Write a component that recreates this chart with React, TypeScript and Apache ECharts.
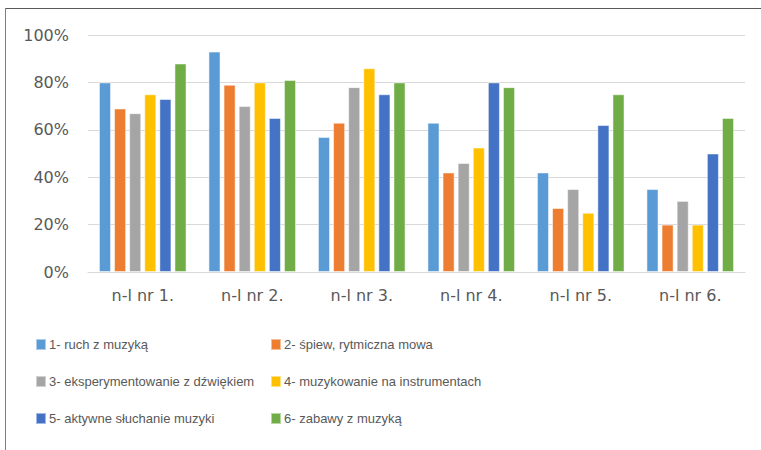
import React, { useEffect, useRef } from "react";
import * as echarts from "echarts";

const categories = ["n-l nr 1.", "n-l nr 2.", "n-l nr 3.", "n-l nr 4.", "n-l nr 5.", "n-l nr 6."];
const seriesNames = [
  "1- ruch z muzyką",
  "2- śpiew, rytmiczna mowa",
  "3- eksperymentowanie z dźwiękiem",
  "4- muzykowanie na instrumentach",
  "5- aktywne słuchanie muzyki",
  "6- zabawy z muzyką",
];
const s1 = [80, 93, 57, 63, 42, 35];
const s2 = [69, 79, 63, 42, 27, 20];
const s3 = [67, 70, 78, 46, 35, 30];
const s4 = [75, 80, 86, 52.5, 25, 20];
const s5 = [73, 65, 75, 80, 62, 50];
const s6 = [88, 81, 80, 78, 75, 65];
const seriesValues = [s1, s2, s3, s4, s5, s6];
const colors = ["#5B9BD5", "#ED7D31", "#A5A5A5", "#FFC000", "#4472C4", "#70AD47"];

export default function App() {
  const ref = useRef<HTMLDivElement>(null);
  useEffect(() => {
    if (!ref.current) return;
    const chart = echarts.init(ref.current, undefined, { renderer: "svg" });
    const legendText = {
      color: "#595959",
      fontSize: 13,
      fontFamily: "'Liberation Sans', Arial, sans-serif",
      padding: [0, 0, 0, -2],
    };
    const legendBase = {
      orient: "vertical",
      top: 338,
      padding: 0,
      itemGap: 24,
      itemWidth: 10,
      itemHeight: 11,
      icon: "rect",
      textStyle: legendText,
    };
    chart.setOption({
      animation: false,
      backgroundColor: "#ffffff",
      grid: { left: 88, right: 16, top: 35, bottom: 178 },
      xAxis: {
        type: "category",
        data: categories,
        axisLine: { lineStyle: { color: "#d9d9d9", width: 1 } },
        axisTick: { show: false },
        axisLabel: {
          color: "#595959",
          fontSize: 16,
          fontFamily: "'DejaVu Sans', sans-serif",
          margin: 15,
        },
      },
      yAxis: {
        type: "value",
        min: 0,
        max: 100,
        interval: 20,
        axisLine: { show: false },
        axisTick: { show: false },
        splitLine: { lineStyle: { color: "#d9d9d9", width: 1 } },
        axisLabel: {
          formatter: "{value}%",
          color: "#595959",
          fontSize: 16,
          fontFamily: "'DejaVu Sans', sans-serif",
          margin: 19,
        },
      },
      legend: [
        { ...legendBase, left: 35, data: [seriesNames[0], seriesNames[2], seriesNames[4]] },
        { ...legendBase, left: 270, data: [seriesNames[1], seriesNames[3], seriesNames[5]] },
      ],
      graphic: [
        { type: "line", shape: { x1: 5, y1: 8.5, x2: 761, y2: 8.5 }, style: { stroke: "#595959", lineWidth: 1 } },
        { type: "line", shape: { x1: 5.5, y1: 8, x2: 5.5, y2: 450 }, style: { stroke: "#7f7f7f", lineWidth: 1 } },
      ],
      series: seriesValues.map((vals, i) => ({
        name: seriesNames[i],
        type: "bar",
        data: vals,
        barGap: "25%",
        barCategoryGap: "20%",
        itemStyle: { color: colors[i], borderColor: "rgba(255,255,255,0.5)", borderWidth: 1 },
      })),
    });
    return () => chart.dispose();
  }, []);
  return <div ref={ref} style={{ width: 761, height: 450, position: "absolute", left: 0, top: 0 }} />;
}
